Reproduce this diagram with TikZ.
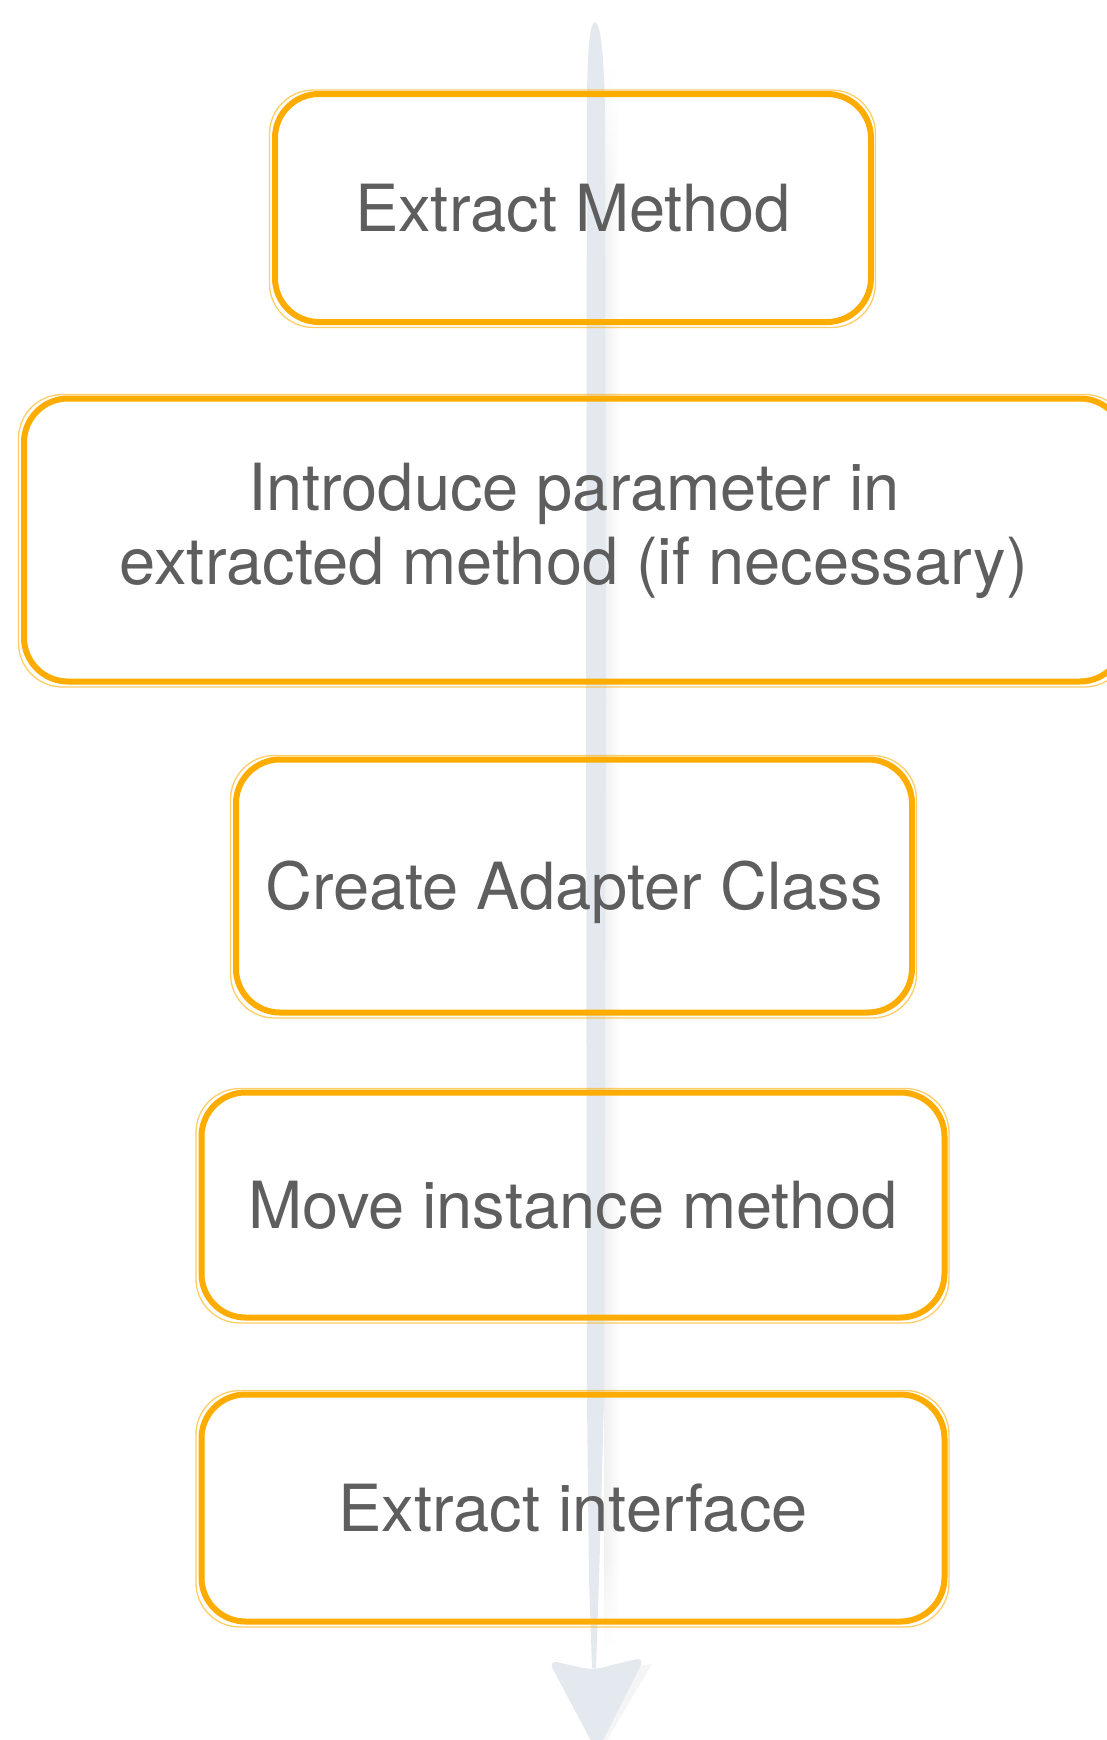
\documentclass[tikz,border=0pt]{standalone}
\usepackage{fontspec}
\setmainfont{TeX Gyre Heros}
\usetikzlibrary{calc,fadings}
\definecolor{brush}{HTML}{FFAC00}
\definecolor{txt}{HTML}{5E5E5E}
\definecolor{axis}{HTML}{E3E9EF}
\tikzset{
  stepbox/.style={draw=brush, line width=6pt, rounded corners=44pt, inner sep=0pt},
  steptext/.style={text=txt, font=\fontsize{65}{74}\selectfont, inner sep=0pt, text height=47pt, text depth=0pt},
  steptwo/.style={text=txt, font=\fontsize{65}{74}\selectfont, inner sep=0pt, align=center},
  thinstroke/.style={draw=brush, line width=1.3pt, opacity=0.6, rounded corners=44pt},
}
\newcommand{\sketchbox}[1]{%
  \draw[thinstroke] ($(#1.north west)+(-2.5,-1)$) rectangle ($(#1.south east)+(1.5,2.5)$);
  \draw[thinstroke, opacity=0.45, line width=1pt] ($(#1.north west)+(2.5,3)$) rectangle ($(#1.south east)+(-2.5,-2.5)$);
}
\begin{document}
\begin{tikzpicture}[x=1pt,y=-1pt]
\useasboundingbox (0,0) rectangle (1107,1740);
% timeline shadow
\shade[left color=black!6, right color=white, path fading=north] (604,60) rectangle (620,200);
\shade[left color=black!6, right color=white] (604,200) rectangle (620,1560);
\shade[left color=black!6, right color=white, path fading=south] (604,1560) rectangle (620,1650);
% timeline shaft
\fill[axis] (595,22) .. controls (589,22) and (587,60) .. (587,110)
  -- (586,700) -- (587,1400) -- (589,1580) -- (592,1668)
  -- (596,1668) -- (599,1580) -- (604,1400) -- (606,700) -- (605,110)
  .. controls (604,60) and (601,22) .. (595,22) -- cycle;
% arrowhead shadow
\fill[black!4] (602,1672) -- (652,1664) -- (604,1745) -- cycle;
% arrowhead
\fill[axis, rounded corners=10pt] (548,1660) -- (592,1670) -- (645,1657) -- (597,1752) -- cycle;

% boxes
\node[stepbox, minimum width=596pt, minimum height=228pt] (b1) at (573,208) {};
\node[steptext] (t1) at (b1) {Extract Method};
\sketchbox{b1}

\node[stepbox, minimum width=1100pt, minimum height=283pt] (b2) at (574,540) {};
\node[steptwo] (t2) at (574,531) {Introduce parameter in\\extracted method (if necessary)};
\sketchbox{b2}

\node[stepbox, minimum width=676pt, minimum height=253pt] (b3) at (574,886) {};
\node[steptext] (t3) at (b3) {Create Adapter Class};
\sketchbox{b3}

\node[stepbox, minimum width=743pt, minimum height=225pt] (b4) at (573,1205) {};
\node[steptext] (t4) at (b4) {Move instance method};
\sketchbox{b4}

\node[stepbox, minimum width=743pt, minimum height=227pt] (b5) at (573,1508) {};
\node[steptext] (t5) at (b5) {Extract interface};
\sketchbox{b5}
\end{tikzpicture}
\end{document}
